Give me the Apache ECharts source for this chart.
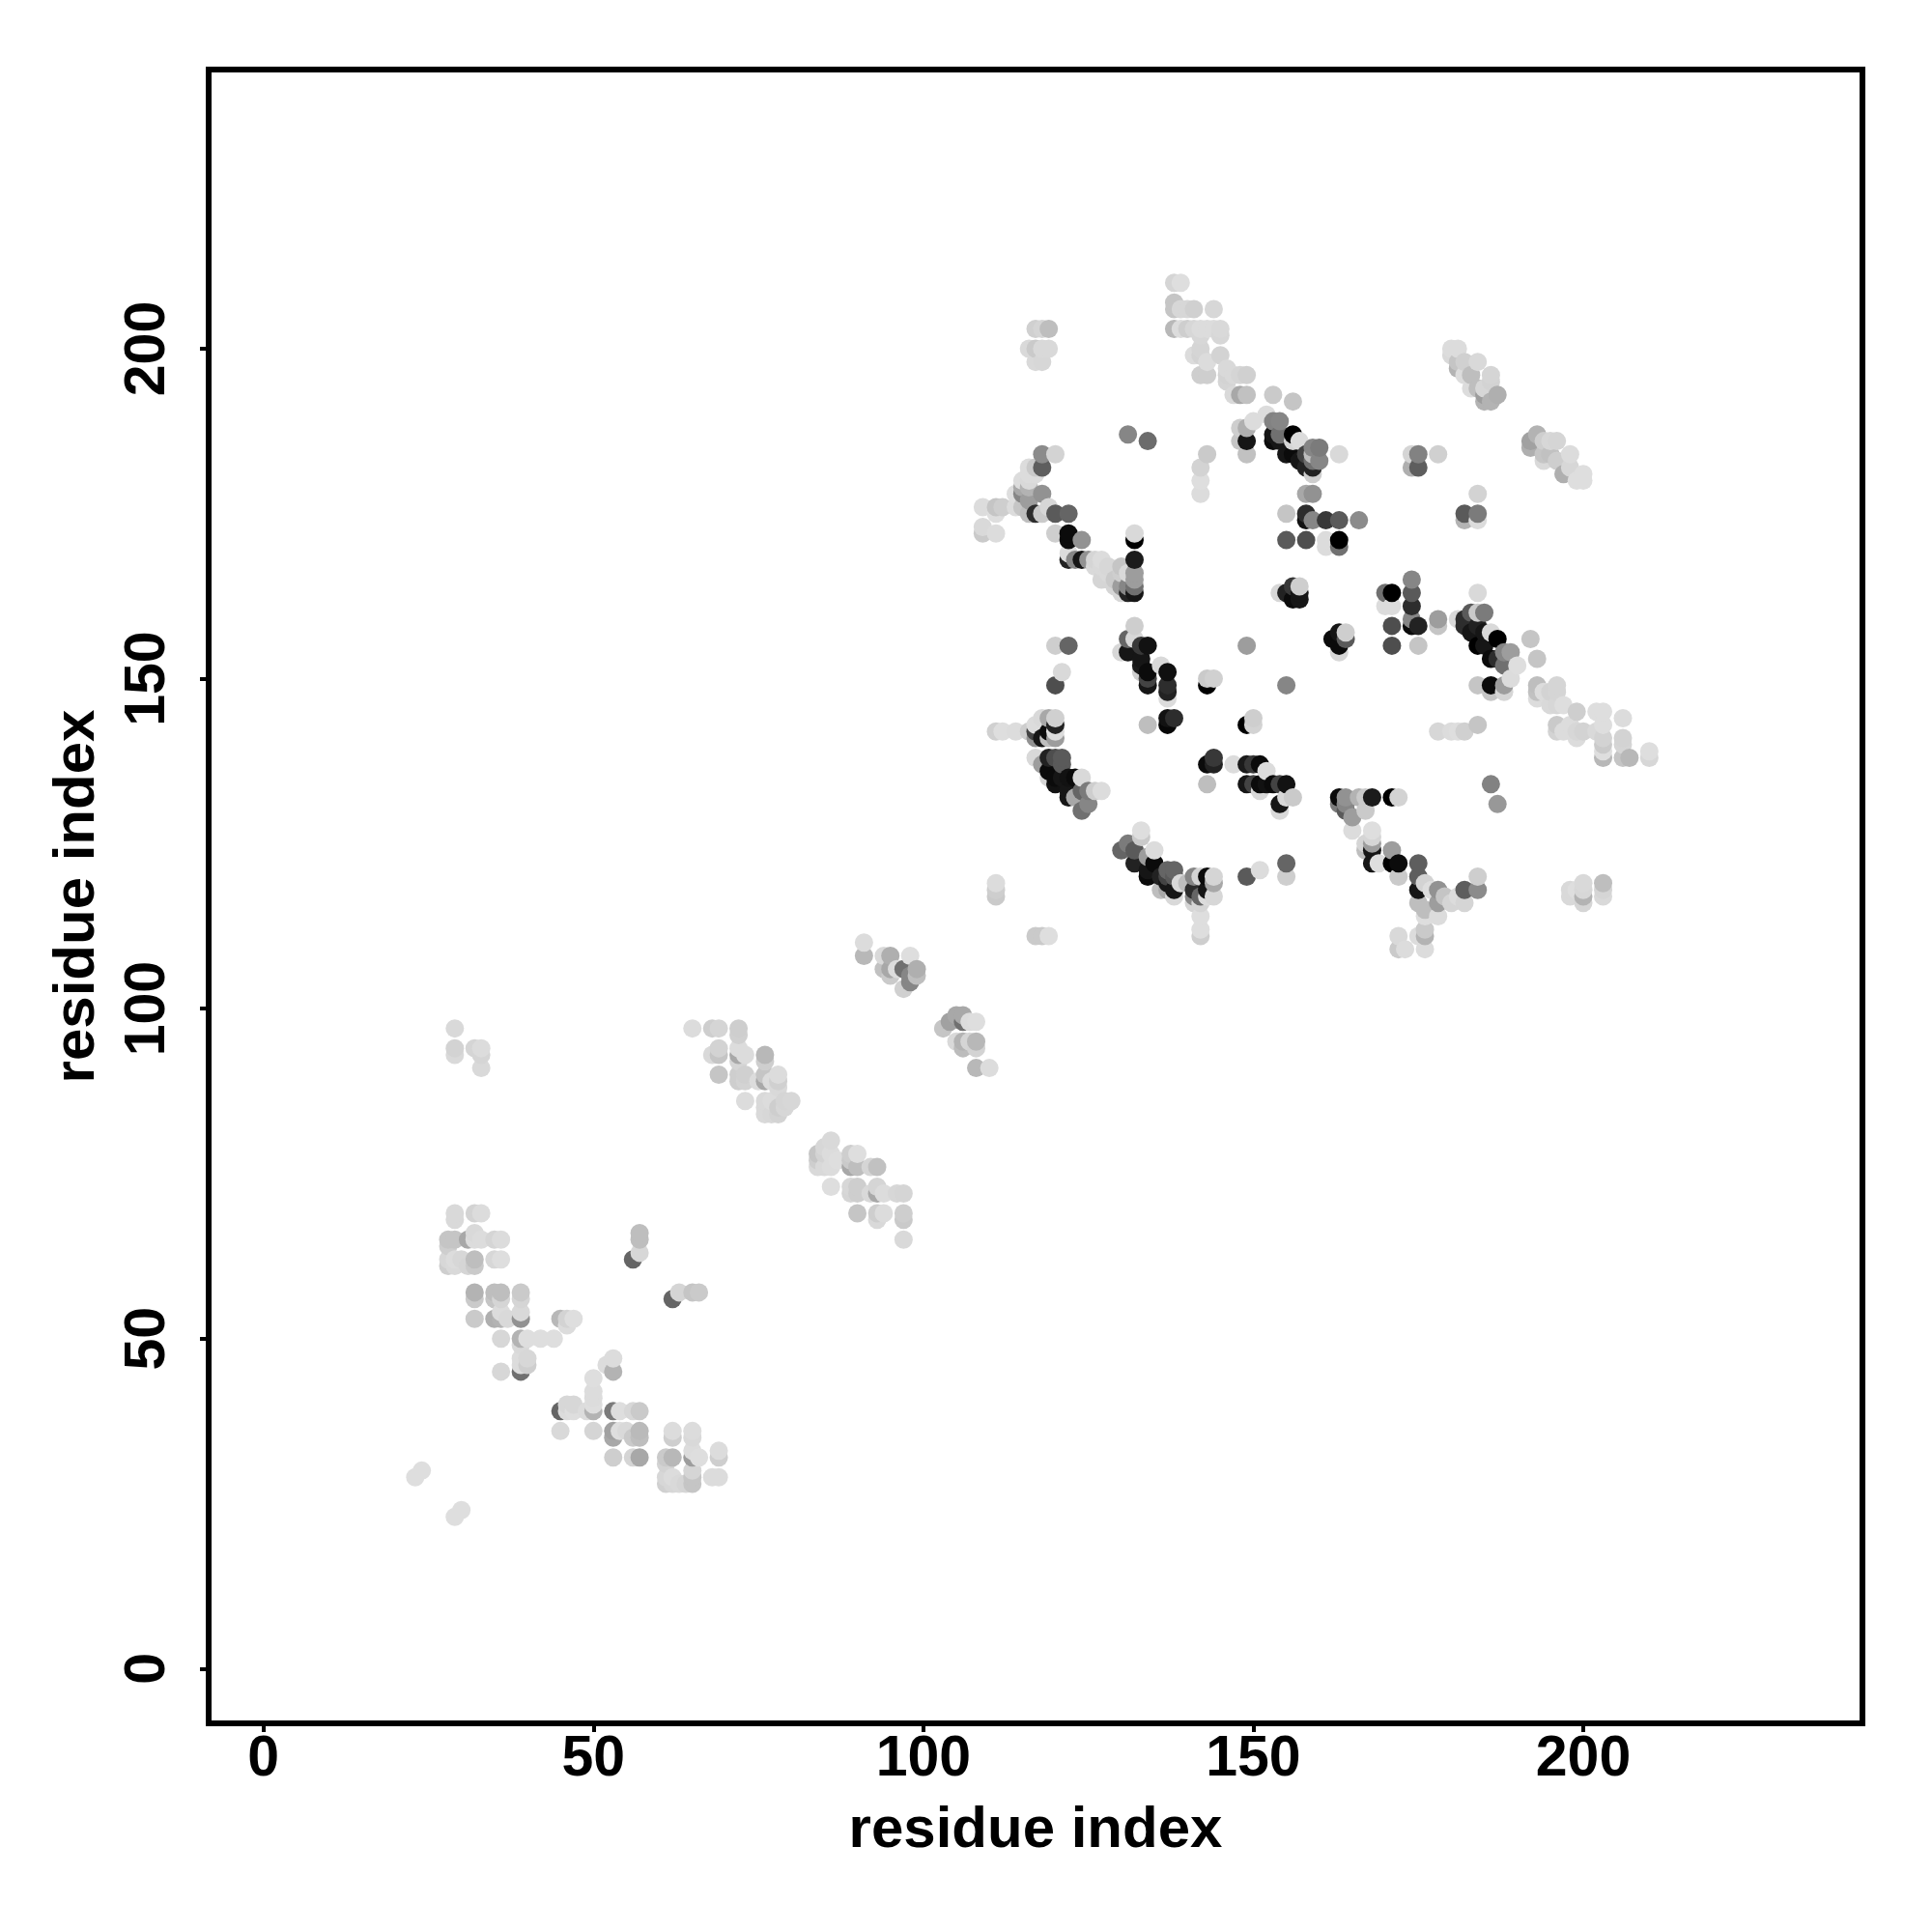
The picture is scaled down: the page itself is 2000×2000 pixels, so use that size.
<!DOCTYPE html>
<html><head><meta charset="utf-8">
<script src="https://cdn.jsdelivr.net/npm/echarts@6/dist/echarts.min.js"></script>
<style>html,body{margin:0;background:#fff}#c{width:2000px;height:2000px}</style></head>
<body><div id="c"></div>
<script>
const tickLabels = [0, 50, 100, 150, 200];
const axisTitle = "residue index";
// each contact: [residue x, residue y, contact score 0-100]
const lowerLeft = [[29,97,3],[29,94,6],[29,93,3],[32,94,5],[33,94,2],[33,93,5],[33,91,3],
[23,29,1],[24,30,1],[29,23,1],[30,24,1],
[29,69,3],[29,68,3],[32,69,6],[33,69,2],[28,65,12],[29,65,12],[28,64,8],[31,65,25],[32,66,3],[32,65,2],[33,65,2],[35,65,5],[36,65,2],
[28,62,4],[29,62,2],[30,62,4],[28,61,8],[29,61,3],[31,61,5],[32,62,15],[32,61,10],[35,62,4],[36,62,1],
[32,57,20],[32,56,10],[35,57,15],[36,57,15],[35,56,12],[36,56,5],[39,57,10],[39,56,5],
[32,53,10],[35,53,22],[36,53,20],[36,54,2],[39,53,35],[39,54,3],[37,53,3],[45,53,18],[46,53,6],[47,53,1],[46,52,2],
[36,50,4],[39,50,20],[40,50,1],[42,50,1],[44,50,1],[39,49,3],[40,47,4],[39,47,2],[40,46,8],[39,46,2],[39,45,50],[36,45,4],
[53,47,2],[52,46,2],[53,45,20],[50,44,1],[50,42,2],[50,41,2],[50,40,1],[50,39,20],
[45,39,55],[46,40,4],[47,40,4],[46,39,2],[47,39,1],[49,39,2],[53,39,45],[54,39,1],[56,39,4],[57,39,10],
[45,36,3],[50,36,5],[53,36,28],[53,35,25],[54,36,1],[55,36,3],[57,36,17],[57,35,15],[56,35,10],[53,32,8],[56,32,5],[57,32,25],
[62,36,2],[62,35,8],[65,36,2],[65,35,3],[62,32,18],[61,32,10],[61,31,6],[65,33,2],[66,32,1],[65,32,30],[69,33,2],[69,32,8],[69,29,2],[68,29,2],
[65,30,5],[65,29,12],[65,28,12],[64,28,5],[61,29,4],[62,29,2],[61,28,7],[62,28,4],[63,28,3],
[57,66,15],[57,65,15],[57,63,4],[56,62,55],[62,56,55],[63,57,5],[65,57,12],[66,57,10]];
const midA = [[65,97,2],[68,97,8],[69,97,5],[72,97,8],[72,96,7],[69,94,6],[69,93,12],[68,93,3],[72,94,2],[72,93,25],[73,93,2],[72,92,5],
[69,90,12],[72,90,8],[72,89,8],[73,90,7],[73,89,6],[76,93,18],[76,92,8],[76,90,12],[76,89,25],[75,89,2],[77,89,2],[78,90,2],[78,89,7],[78,88,3],
[73,86,2],[76,86,3],[76,85,3],[76,84,3],[77,84,4],[78,84,6],[79,86,5],[80,86,4],[78,85,8],[79,85,4],[77,86,2]];
const midB = [[86,80,3],[85,79,4],[84,78,12],[84,77,8],[84,76,3],[85,78,6],[86,78,2],[86,76,2],[85,76,3],[87,77,1],[89,78,8],[90,78,1],[89,77,10],[89,76,25],[90,76,15],[92,76,5],[93,76,14],
[86,73,1],[89,73,4],[90,73,8],[90,72,8],[89,72,5],[93,73,5],[92,72,3],[93,72,25],[94,72,2],[96,72,4],[97,72,5],[90,69,12],[93,69,8],[94,69,2],[93,68,3],[97,69,8],[97,68,10],[97,65,3]];
const midC = [[91,110,2],[91,108,18],[94,108,3],[95,108,22],[98,108,1],[94,106,14],[95,106,25],[95,105,10],[96,106,2],[97,106,50],[99,106,22],[99,105,15],[98,105,40],[98,104,40],[97,103,7],
[105,99,25],[106,99,25],[104,98,28],[103,97,12],[106,98,50],[107,98,2],[108,98,1],[105,95,3],[106,95,20],[106,94,16],[107,95,5],[108,95,18],[108,94,6],[108,91,18],[110,91,2]];
const topDiag = [[138,210,5],[139,210,1],[138,207,12],[138,206,12],[139,206,4],[140,206,4],[141,206,7],[144,206,4],
[138,203,18],[139,203,2],[140,203,8],[141,203,4],[142,203,2],[143,203,2],[144,203,2],[145,203,3],[145,202,4],[142,202,4],
[141,199,2],[142,200,5],[142,199,6],[145,199,6],[143,198,2],[142,196,8],[143,196,8],[146,197,3],[146,196,6],[147,196,3],[148,196,5],[149,196,7],[146,195,5],
[147,193,3],[148,193,25],[149,193,14],[153,193,10],[156,192,12],[148,188,8],[149,188,22],[150,189,2],[152,190,2],[148,186,12],[149,186,90],[149,184,14],
[153,189,42],[154,189,40],[153,187,90],[153,186,95],[154,187,50],[154,186,90],[155,184,90],[156,187,100],[156,186,5],[156,184,95],[157,186,2],[157,183,90],
[158,184,70],[158,182,85],[159,185,40],[160,185,45],[159,184,15],[159,183,50],[160,183,40],[159,182,85],[159,181,8],[163,184,3],
[118,203,5],[117,203,7],[119,203,15],[116,200,3],[117,200,10],[118,200,3],[119,200,3],[117,198,3],[118,198,4],
[131,187,40],[134,186,52],[143,184,10],[142,182,6],[142,180,1],[142,178,2]];
const leftArc = [[118,184,38],[120,184,6],[118,182,58],[116,182,2],[117,182,10],[116,181,2],[115,180,2],[116,180,3],[117,181,2],[115,179,25],[116,179,20],[118,178,35],
[114,178,1],[115,178,40],[116,177,30],[115,176,12],[114,176,2],[109,176,2],[111,176,12],[112,176,8],[111,175,1],[116,175,15],[117,175,80],[118,175,10],[119,176,4],[120,175,60],[122,175,55],
[109,173,3],[109,172,10],[111,172,2],[120,172,8],[122,172,95],[122,171,95],[124,171,35],[132,172,3],[132,171,100],[155,175,12],[155,171,60],
[122,169,2],[122,168,85],[123,168,40],[124,168,90],[125,168,35],[126,168,5],[127,168,2],[126,167,3],[127,167,3],[128,167,4],[130,167,12],[132,168,88],[132,166,30],[131,166,3],
[127,165,5],[128,165,5],[129,165,10],[128,166,3],[130,166,8],[129,164,5],[130,164,30],[131,164,40],[132,165,30],[132,164,50],[130,163,4],[131,163,85],[132,163,90]];
const centreA = [[132,158,8],[131,156,55],[132,156,4],[130,154,4],[131,154,90],[133,155,75],[134,155,92],[133,153,90],[133,152,88],[134,151,95],[133,151,8],[134,150,70],[134,149,90],[136,152,3],[137,151,93],[137,149,80],[137,148,85],[137,147,2],
[120,155,8],[122,155,55],[121,151,3],[120,149,65],[143,150,10],[144,150,7],[143,149,100],[149,155,30],[155,149,40],
[134,143,15],[137,144,92],[138,144,80],[137,143,97],[149,143,100],[150,144,8],[150,143,6]];
const arcG = [[111,142,7],[112,142,1],[114,142,2],[116,142,8],[117,143,2],[118,144,3],[119,144,25],[120,144,7],[120,143,85],[120,142,2],[117,142,70],[117,141,35],[118,141,90],[119,142,95],[120,141,30],[119,141,15],
[117,138,3],[118,137,30],[119,138,85],[120,138,65],[121,138,60],[121,137,60],[119,136,95],[120,135,95],[120,134,92],[121,135,90],[122,135,92],[123,135,95],[124,135,3],[122,133,90],[122,132,90],[124,133,55],[125,133,45],[126,133,8],[127,133,2],[125,131,40],[124,130,50],[123,132,25],[119,135,5]];
const arcH = [[130,124,55],[131,125,45],[133,127,1],[133,126,10],[132,124,60],[132,122,85],[135,124,2],[135,122,95],[134,123,30],[134,121,90],[134,120,95],[136,120,85],[137,121,55],[138,121,55],[137,120,70],[138,120,60],[137,119,90],[136,118,15],[139,119,3],[138,118,90],
[141,120,40],[140,119,15],[141,118,80],[142,120,5],[143,120,95],[144,120,5],[144,119,25],[143,118,90],[141,117,40],[141,116,5],[142,117,55],[144,117,4],[142,116,5],[143,117,2],[138,117,3],[137,118,25],
[142,114,1],[142,112,1],[142,111,8],[149,120,60],[151,121,2],[155,122,55],[155,120,8],[111,119,2],[111,118,8],[111,117,10],[117,111,10],[118,111,10],[119,111,1]];
const bandM = [[144,138,75],[143,137,95],[144,137,85],[143,134,15],[147,137,2],[149,137,88],[150,137,75],[151,137,95],[152,136,2],[149,134,90],[150,134,70],[151,134,95],[152,134,92],[153,134,95],[154,134,70],[155,134,92],[151,133,3],[155,132,4],[154,131,90],[154,130,3],[156,132,10],
[154,163,4],[155,163,85],[156,164,75],[156,162,95],[157,164,8],[157,163,90],[157,162,90]];
const rightA = [[162,156,95],[163,157,90],[163,155,95],[164,156,60],[164,157,8],[163,154,4],[170,163,50],[171,163,100],[170,161,2],[171,161,2],[174,163,60],[174,161,80],[174,165,40],[174,159,40],[171,158,65],[175,158,85],[174,158,95],[171,155,65],[175,155,12],[178,159,30],[178,158,12],[184,163,3],
[181,159,3],[182,159,80],[182,158,80],[183,160,60],[184,160,10],[185,160,45],[183,157,90],[184,158,85],[185,157,90],[184,155,100],[185,155,90],[186,157,3],[187,156,100],[186,153,95],[188,154,40],[189,154,30],[187,153,80],[190,152,1],[188,152,50],[192,156,12],[193,153,12],
[184,149,12],[186,149,95],[189,150,2],[188,149,30],[188,148,5],[186,148,12],[178,142,4],[180,142,2],[181,142,1],[182,142,7],[184,143,12],[186,134,42],[187,131,32]];
const rightB = [[193,149,15],[193,148,14],[193,147,2],[194,148,2],[195,148,6],[196,149,5],[196,148,5],[195,146,3],[196,146,4],[197,146,1],[199,145,8],[196,143,10],[196,142,6],[197,142,2],[198,143,2],[199,142,4],[200,142,6],[199,141,2],[202,145,1],[203,145,1],[203,143,1],[203,141,6],[203,140,10],[203,139,1],[203,138,18],[202,142,3],[206,144,2],[206,141,6],[206,140,5],[206,138,12],[207,138,18],[210,139,1],[210,138,4]];
const arcI = [[163,132,95],[163,131,45],[164,132,35],[164,130,60],[164,131,40],[166,132,20],[167,132,10],[168,132,88],[171,132,100],[172,132,6],[167,130,10],[165,129,30],[165,127,2],[168,127,1],[168,126,5],[167,125,5],[168,125,30],[168,124,90],[167,124,15],[168,122,90],[169,122,1],[171,124,30],[171,122,100],[172,122,95],[172,120,10],
[175,122,58],[175,120,58],[175,118,90],[175,116,15],[176,119,6],[177,118,1],[176,115,15],[178,118,35],[178,116,30],[179,117,12],[180,116,5],[181,117,2],[182,118,58],[182,116,5],[184,118,38],[184,120,8],[178,114,2],[176,114,1],[176,112,10],[176,111,20],[175,111,2],[172,111,3],[173,109,2],[172,109,10],[176,109,2],
[198,118,3],[198,117,3],[199,118,1],[200,119,3],[200,118,4],[200,117,20],[200,116,5],[203,119,15],[203,118,5],[203,117,3]];
const upperRight = [[180,200,2],[181,200,2],[180,199,3],[181,198,12],[182,198,7],[184,198,3],[181,197,20],[182,196,2],[183,196,15],[186,196,5],[186,195,6],[183,194,2],[185,193,30],[187,193,22],[185,192,20],[186,192,20],[184,194,15],[185,194,4],
[193,187,20],[192,186,28],[192,185,22],[194,186,8],[195,186,4],[196,186,5],[194,184,12],[195,184,14],[198,184,2],[194,183,3],[196,183,8],[197,181,22],[198,182,4],[199,180,1],[200,181,1],[200,180,1],
[175,184,42],[174,184,5],[175,182,58],[174,182,22],[178,184,7],[184,178,6],[182,175,60],[182,174,20],[184,175,45],[184,174,2],
[166,174,38],[163,174,60],[161,174,75],[159,174,40],[158,175,80],[158,174,92],[158,171,65],[161,171,2],[161,170,2],[163,171,100],[163,170,50],[158,178,25],[159,178,35]];

const contacts = [].concat(lowerLeft, midA, midB, midC, topDiag, leftArc, centreA, arcG, arcH, bandM, rightA, rightB, arcI, upperRight)
  .sort((a, b) => a[0] - b[0] || a[1] - b[1]);

function shade(score) {
  const g = Math.round(224 * (1 - score / 100));
  return `rgb(${g},${g},${g})`;
}
const font = '"Liberation Sans", Arial, sans-serif';
function axis(extra) {
  return Object.assign({
    type: 'value', min: -8.3, max: 242.3, name: axisTitle, nameLocation: 'middle',
    nameTextStyle: { fontFamily: font, fontWeight: 'bold', fontSize: 60, color: '#000' },
    splitLine: { show: false }, axisLine: { show: false, onZero: false },
    axisTick: { show: true, customValues: tickLabels, length: 9, lineStyle: { color: '#000', width: 4 } }
  }, extra);
}
const chart = echarts.init(document.getElementById('c'), null, { renderer: 'canvas' });
chart.setOption({
  animation: false, backgroundColor: '#fff',
  grid: { left: 216, right: 72, top: 72, bottom: 216, show: true, borderColor: '#000', borderWidth: 6, backgroundColor: 'transparent' },
  xAxis: axis({ nameGap: 81, axisLabel: { customValues: tickLabels, margin: 8, fontFamily: font, fontWeight: 'bold', fontSize: 59, color: '#000' } }),
  yAxis: axis({ nameGap: 106, nameRotate: 90, axisLabel: { customValues: tickLabels, rotate: 90, margin: 62, fontFamily: font, fontWeight: 'bold', fontSize: 59, color: '#000', align: 'center', verticalAlign: 'middle' } }),
  series: [{
    type: 'scatter', symbol: 'circle', symbolSize: 19, silent: true, large: false, progressive: 0,
    data: contacts,
    itemStyle: { opacity: 1, color: p => shade(p.data[2]) }
  }]
});
</script></body></html>
